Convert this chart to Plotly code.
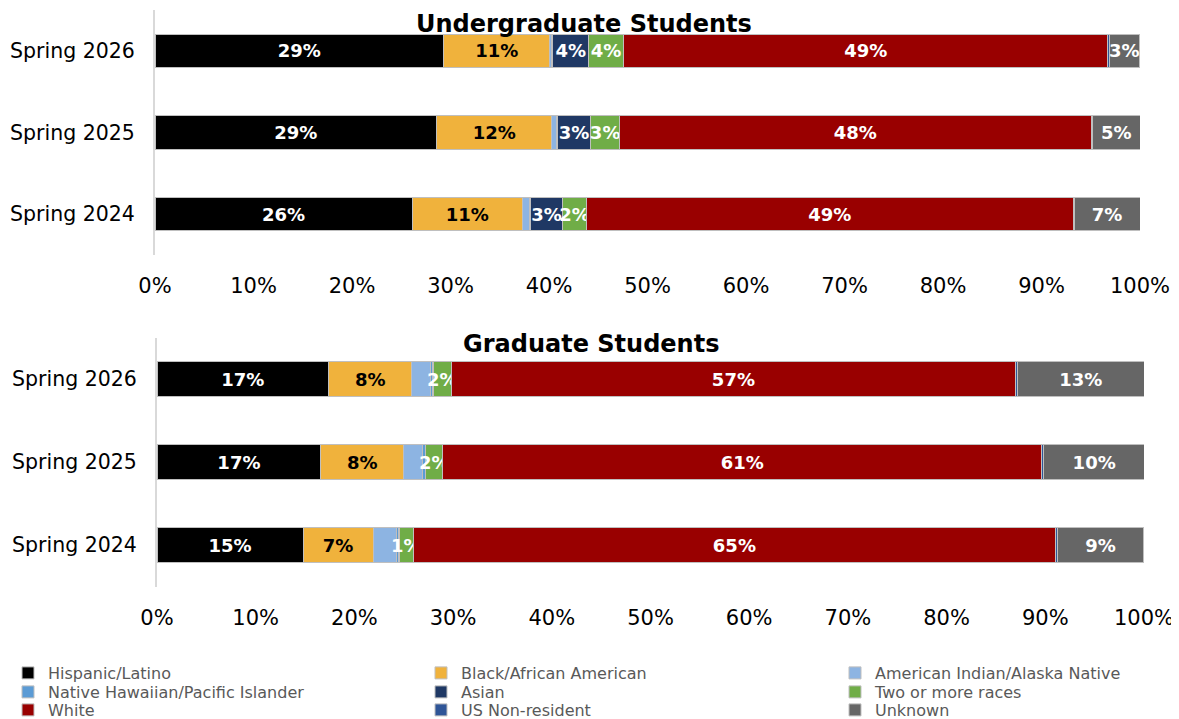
import plotly.graph_objects as go

terms = ["Spring 2026", "Spring 2025", "Spring 2024"]
series = ["Hispanic/Latino", "Black/African American", "American Indian/Alaska Native",
          "Native Hawaiian/Pacific Islander", "Asian", "Two or more races",
          "White", "US Non-resident", "Unknown"]
colors = ["#000000", "#F0B23C", "#8DB4E2", "#5B9BD5", "#1F3864", "#70AD47",
          "#990000", "#2F5597", "#666666"]
text_colors = ["white", "black", "white", "white", "white", "white", "white", "white", "white"]
labelled = ["Hispanic/Latino", "Black/African American", "Asian", "Two or more races", "White", "Unknown"]

# Undergraduate values (%), order: Spring 2026, 2025, 2024
ug_hispanic = [29.3, 28.6, 26.1]
ug_black = [10.8, 11.7, 11.2]
ug_aian = [0.2, 0.5, 0.7]
ug_nhpi = [0.1, 0.05, 0.1]
ug_asian = [3.6, 3.4, 3.3]
ug_two = [3.6, 2.9, 2.4]
ug_white = [49.1, 47.9, 49.4]
ug_usnr = [0.2, 0.15, 0.1]
ug_unknown = [3.0, 4.8, 6.7]

# Graduate values (%)
gr_hispanic = [17.4, 16.6, 14.8]
gr_black = [8.4, 8.4, 7.1]
gr_aian = [1.9, 1.9, 2.4]
gr_nhpi = [0.2, 0.3, 0.2]
gr_asian = [0.1, 0.05, 0.05]
gr_two = [1.8, 1.7, 1.4]
gr_white = [57.2, 60.7, 65.1]
gr_usnr = [0.2, 0.2, 0.2]
gr_unknown = [12.8, 10.2, 8.7]

ug = [ug_hispanic, ug_black, ug_aian, ug_nhpi, ug_asian, ug_two, ug_white, ug_usnr, ug_unknown]
gr = [gr_hispanic, gr_black, gr_aian, gr_nhpi, gr_asian, gr_two, gr_white, gr_usnr, gr_unknown]

FONT = "DejaVu Sans"
W, H = 1179, 719
OFF = 8  # page body margin offset


def px(x):
    return (x - OFF) / W


def py(y):
    return 1 - (y - OFF) / H


legend_ids = ["legend"] + [f"legend{k}" for k in range(2, 10)]
fig = go.Figure()

for data, xa, ya, show in [(ug, "x", "y", True), (gr, "x2", "y2", False)]:
    for i, name in enumerate(series):
        vals = data[i]
        txt = [f"{round(v)}%" if (name in labelled and v >= 0.5) else "" for v in vals]
        fig.add_trace(go.Bar(
            y=terms, x=vals, orientation="h", name=name,
            marker=dict(color=colors[i], line=dict(color="#BFBFBF", width=1)),
            text=txt, textposition="inside", insidetextanchor="middle", textangle=0,
            textfont=dict(family=FONT, size=18, color=text_colors[i], weight="bold"),
            showlegend=show, legend=legend_ids[i], xaxis=xa, yaxis=ya,
            hoverinfo="skip",
        ))

xcommon = dict(range=[0, 100], tickvals=list(range(0, 101, 10)),
               ticktext=[f"{v}%" for v in range(0, 101, 10)],
               showgrid=False, zeroline=False, showline=False, automargin=False,
               ticks="outside", ticklen=12, tickcolor="rgba(0,0,0,0)",
               tickfont=dict(family=FONT, size=21, color="#000000"), fixedrange=True)
ycommon = dict(autorange="reversed", showgrid=False, showline=True, automargin=False,
               linecolor="#D9D9D9", linewidth=2, ticks="", ticklabelstandoff=14,
               tickfont=dict(family=FONT, size=20.5, color="#000000"))

row_y = [673, 692, 710]
col_text_x = [47, 461, 875]
legends = {}
for i in range(9):
    r, c = divmod(i, 3)
    legends[legend_ids[i]] = dict(
        orientation="v", xanchor="left", yanchor="top",
        x=max(px(col_text_x[c] - 40), 0), y=py(row_y[r] - 17),
        font=dict(family=FONT, size=16, color="#595959"),
        itemclick=False, tracegroupgap=0, bgcolor="rgba(0,0,0,0)")

fig.update_layout(
    width=W, height=H,
    margin=dict(l=0, r=0, t=0, b=0),
    barmode="stack", bargap=0.59,
    plot_bgcolor="white", paper_bgcolor="white",
    uniformtext=dict(minsize=18, mode="show"),
    xaxis=dict(domain=[px(155), px(1140)], anchor="y", **xcommon),
    yaxis=dict(domain=[py(255), py(10)], anchor="x", **ycommon),
    xaxis2=dict(domain=[px(157), px(1144)], anchor="y2", **xcommon),
    yaxis2=dict(domain=[py(586.5), py(337.5)], anchor="x2", **ycommon),
    annotations=[
        dict(text="<b>Undergraduate Students</b>", x=px(584), y=py(24), xref="paper", yref="paper",
             showarrow=False, font=dict(family=FONT, size=24, color="#000000"), yanchor="middle"),
        dict(text="<b>Graduate Students</b>", x=px(591), y=py(344), xref="paper", yref="paper",
             showarrow=False, font=dict(family=FONT, size=24, color="#000000"), yanchor="middle"),
    ],
    **legends,
)

fig.write_html("out.html")
